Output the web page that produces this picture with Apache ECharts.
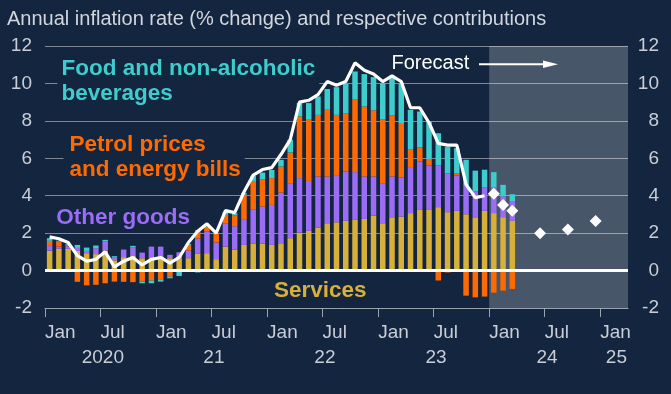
<!DOCTYPE html>
<html><head><meta charset="utf-8">
<script src="https://cdn.jsdelivr.net/npm/echarts@6/dist/echarts.min.js"></script>
<style>html,body{margin:0;padding:0;background:#13253f;}#c{width:671px;height:394px;}</style>
</head><body><div id="c"></div>
<script>
// ---------- data ----------
const months = [
 '2020-01','2020-02','2020-03','2020-04','2020-05','2020-06','2020-07','2020-08','2020-09','2020-10','2020-11','2020-12',
 '2021-01','2021-02','2021-03','2021-04','2021-05','2021-06','2021-07','2021-08','2021-09','2021-10','2021-11','2021-12',
 '2022-01','2022-02','2022-03','2022-04','2022-05','2022-06','2022-07','2022-08','2022-09','2022-10','2022-11','2022-12',
 '2023-01','2023-02','2023-03','2023-04','2023-05','2023-06','2023-07','2023-08','2023-09','2023-10','2023-11','2023-12',
 '2024-01','2024-02','2024-03'];
const services = [
 1.07,1.16,1.16,1.05,0.93,0.88,1.07,0.55,0.72,0.78,0.66,0.66,
 0.75,0.66,0.66,0.66,0.89,0.93,0.61,1.28,1.12,1.37,1.43,1.43,
 1.37,1.46,1.73,2.03,2.12,2.30,2.53,2.58,2.66,2.71,2.76,2.94,
 2.53,2.85,2.89,3.07,3.24,3.24,3.39,3.12,3.19,3.01,2.85,3.19,
 3.07,2.85,2.67];
const otherGoods = [
 0.25,0.12,0.14,0.16,0.12,0.32,0.48,0.17,0.38,0.47,0.30,0.62,
 0.53,0.18,0.32,0.41,0.82,1.16,0.89,1.25,1.25,1.34,1.85,1.99,
 2.14,2.71,2.94,2.91,2.67,2.73,2.50,2.48,2.63,2.55,2.27,2.09,
 2.14,2.18,2.08,2.46,2.59,2.37,2.22,2.08,1.89,1.52,1.37,1.27,
 1.39,1.11,1.02];
const energy = [
 0.27,0.27,0.03,-0.60,-0.79,-0.76,-0.68,-0.59,-0.60,-0.62,-0.59,-0.53,
 -0.50,-0.32,0.00,0.30,0.45,0.26,0.50,0.45,0.59,1.34,1.51,1.46,
 1.43,1.39,1.64,3.30,3.27,3.29,3.60,3.26,3.12,3.90,3.74,3.53,
 3.42,3.26,2.87,0.96,0.75,0.36,-0.53,-0.10,0.12,-1.34,-1.43,-1.39,
 -1.18,-1.07,-0.98];
const food = [
 0.14,0.05,0.08,0.16,0.18,0.14,0.09,0.05,0.02,0.07,-0.09,-0.15,
 -0.09,-0.09,-0.29,0.05,-0.10,0.10,-0.05,0.15,0.10,0.10,0.27,0.36,
 0.44,0.36,0.68,0.71,0.89,0.98,1.07,1.48,1.60,1.48,1.73,1.78,
 1.93,2.00,2.18,2.10,1.92,2.00,1.73,1.40,1.34,1.39,1.12,0.93,
 0.80,0.62,0.39];
// CPI inflation, Jan 2020 - Dec 2023 (months[0..47])
const cpiInflation = [
 1.8,1.7,1.5,0.8,0.5,0.6,1.0,0.2,0.5,0.7,0.3,0.6,
 0.7,0.4,0.7,1.5,2.1,2.5,2.0,3.2,3.1,4.2,5.1,5.4,
 5.5,6.2,7.0,9.0,9.1,9.4,10.1,9.9,10.1,11.1,10.7,10.5,
 10.1,10.4,10.1,8.7,8.7,7.9,6.8,6.7,6.7,4.6,3.9,4.0];
const forecastMonths = ['2024-01','2024-02','2024-03','2024-06','2024-09','2024-12'];
const forecastValues = [4.1,3.5,3.2,2.0,2.2,2.65];
const axisStartMonth = '2020-01';
const axisLastMonth = '2025-03';
const forecastStartMonth = '2024-01';
const tickMonths = ['2020-01','2020-07','2021-01','2021-07','2022-01','2022-07','2023-01','2023-07','2024-01','2024-07','2025-01'];
const tickLabels = ['Jan','Jul','Jan','Jul','Jan','Jul','Jan','Jul','Jan','Jul','Jan'];
const years = [2020,2021,2022,2023,2024,2025];
const yearLabels = ['2020','21','22','23','24','25'];
const yTicks = [-2,0,2,4,6,8,10,12];

// ---------- helpers ----------
const monthPos = s => { const p = s.split('-').map(Number); return (p[0]-2020)*12 + (p[1]-1); };
const posMonth = i => { const y = 2020 + Math.floor(i/12); const m = i%12 + 1; return y + '-' + (m<10?'0':'') + m; };
const xMin = monthPos(axisStartMonth), xMax = monthPos(axisLastMonth) + 1;
const axisMonths = [];
for (let i = xMin; i < xMax; i++) axisMonths.push(posMonth(i));
const tickPos = tickMonths.map(monthPos);
const yearCenters = years.map(y => { const a = monthPos(y+'-01'); const b = Math.min(a+12, xMax); return (a+b)/2 + 0.25; });

const BG = '#13253f';
const FONT = '"Liberation Sans", Arial, sans-serif';
const LABEL = '#c9cdd5';
const AXIS = '#9aa2ae';

const chart = echarts.init(document.getElementById('c'), null, {renderer:'canvas'});
const barBase = {type:'bar', stack:'contrib', stackStrategy:'samesign', barWidth:5.5, xAxisIndex:0, yAxisIndex:0, z:2, silent:true};

chart.setOption({
  animation:false,
  backgroundColor: BG,
  title:{text:'Annual inflation rate (% change) and respective contributions', left:7, top:9, padding:0,
    textStyle:{color:'#d3d6dd', fontSize:20, fontWeight:'normal', fontFamily:FONT}},
  grid:{left:45, right:43, top:46, bottom:86, containLabel:false},
  xAxis:[{
    type:'category', data:axisMonths, boundaryGap:true, position:'bottom', z:1.5,
    axisLine:{show:false}, axisTick:{show:false}, axisLabel:{show:false}, splitLine:{show:false}
  },{
    type:'value', min:xMin, max:xMax, position:'bottom', z:1.5,
    axisLine:{show:true, onZero:false, lineStyle:{color:AXIS, width:1}},
    axisTick:{show:true, customValues:tickPos, length:9, lineStyle:{color:AXIS, width:1}},
    axisLabel:{show:true, customValues:tickPos, align:'left', margin:15,
      formatter:(v)=>{ const i = tickPos.indexOf(Math.round(v)); return i>=0 ? tickLabels[i] : ''; },
      color:LABEL, fontSize:19, fontFamily:FONT},
    splitLine:{show:false}
  },{
    type:'value', min:xMin, max:xMax, position:'bottom', z:1.5,
    axisLine:{show:false}, axisTick:{show:false}, splitLine:{show:false},
    axisLabel:{show:true, customValues:yearCenters, margin:40,
      formatter:(v)=>{ const i = yearCenters.findIndex(c=>Math.abs(c-v)<0.01); return i>=0 ? yearLabels[i] : ''; },
      color:LABEL, fontSize:19, fontFamily:FONT}
  }],
  yAxis:[{
    type:'value', min:yTicks[0], max:yTicks[yTicks.length-1], interval:2, position:'left', z:1.5,
    axisLine:{show:false}, axisTick:{show:false},
    axisLabel:{color:LABEL, fontSize:19, fontFamily:FONT, margin:13},
    splitLine:{show:true, lineStyle:{color:'rgba(255,255,255,0.45)', width:1}}
  },{
    type:'value', min:yTicks[0], max:yTicks[yTicks.length-1], interval:2, position:'right', z:1.5,
    axisLine:{show:false}, axisTick:{show:false}, splitLine:{show:false},
    axisLabel:{color:LABEL, fontSize:19, fontFamily:FONT, margin:31, align:'right'}
  }],
  series:[
    {type:'line', data:[], xAxisIndex:1, yAxisIndex:0, z:0, silent:true,
     markArea:{silent:true, z:1, itemStyle:{color:'#48566a'},
       data:[[{xAxis:monthPos(forecastStartMonth)},{xAxis:xMax}]]}},
    Object.assign({}, barBase, {name:'Services', data:months.map((m,i)=>[m, services[i]]), itemStyle:{color:'#d7b03c'}}),
    Object.assign({}, barBase, {name:'Other goods', data:months.map((m,i)=>[m, otherGoods[i]]), itemStyle:{color:'#9b6cf5'}}),
    Object.assign({}, barBase, {name:'Petrol prices and energy bills', data:months.map((m,i)=>[m, energy[i]]), itemStyle:{color:'#ff6a00'}}),
    Object.assign({}, barBase, {name:'Food and non-alcoholic beverages', data:months.map((m,i)=>[m, food[i]]), itemStyle:{color:'#3ecccc'}}),
    {type:'line', name:'CPI inflation', xAxisIndex:0, data:cpiInflation.map((v,i)=>[months[i], v]), z:3, silent:true,
     symbol:'none', lineStyle:{color:'#ffffff', width:3.2},
     markLine:{silent:true, symbol:['none','none'], label:{show:false}, z:5,
       lineStyle:{color:'#ffffff', width:3, type:'solid'}, data:[{yAxis:0}]}},
    {type:'scatter', name:'Forecast', xAxisIndex:0, data:forecastMonths.map((m,i)=>[m, forecastValues[i]]), z:4, silent:true,
     symbol:'diamond', symbolSize:12, itemStyle:{color:'#ffffff', opacity:1}}
  ],
  graphic:[
    {type:'text', z:1.8, silent:true, style:{text:'Food and non-alcoholic\nbeverages', x:57.5, y:56.6,
      font:'bold 22.5px '+FONT, fill:'#3ecccc', lineHeight:25, backgroundColor:BG, padding:[0,4,0,4], align:'left', verticalAlign:'top'}},
    {type:'text', z:1.8, silent:true, style:{text:'Petrol prices\nand energy bills', x:63.5, y:132.2,
      font:'bold 22.5px '+FONT, fill:'#ff6a00', lineHeight:25, backgroundColor:BG, padding:[0,4,0,6], align:'left', verticalAlign:'top'}},
    {type:'text', z:1.8, silent:true, style:{text:'Other goods', x:52.2, y:204.9,
      font:'bold 22.5px '+FONT, fill:'#9b6cf5', lineHeight:25, backgroundColor:BG, padding:[0,4,0,4], align:'left', verticalAlign:'top'}},
    {type:'text', z:1.8, silent:true, style:{text:'Services', x:270, y:278.2,
      font:'bold 22.5px '+FONT, fill:'#d7b03c', lineHeight:25, padding:[0,4,0,4], align:'left', verticalAlign:'top'}},
    {type:'text', z:6, silent:true, style:{text:'Forecast', x:391.5, y:63.1,
      font:'20px '+FONT, fill:'#ffffff', align:'left', verticalAlign:'middle'}},
    {type:'line', z:6, silent:true, shape:{x1:479, y1:64.3, x2:545, y2:64.3}, style:{stroke:'#ffffff', lineWidth:2}},
    {type:'polygon', z:6, silent:true, shape:{points:[[543,60.5],[558,64.3],[543,68.1]]}, style:{fill:'#ffffff'}}
  ]
});
</script></body></html>
